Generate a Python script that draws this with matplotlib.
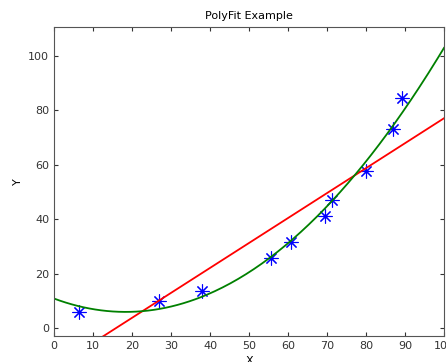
import matplotlib.pyplot as plt
import numpy as np

# data
x_data = [6.5, 26.9, 37.9, 55.6, 60.7, 69.4, 71.3, 80.0, 87.0, 89.3]
y_data = [6.0, 9.9, 13.6, 25.9, 31.5, 41.1, 47.2, 57.8, 73.1, 84.3]
x_ticks = [0, 10, 20, 30, 40, 50, 60, 70, 80, 90, 100]
y_ticks = [0, 20, 40, 60, 80, 100]

x = np.asarray(x_data)
y = np.asarray(y_data)
lin = np.polyfit(x, y, 1)
quad = np.polyfit(x, y, 2)
xs = np.linspace(0, 100, 200)

plt.rcParams.update({"font.family": "DejaVu Sans", "font.size": 8})
fig = plt.figure(figsize=(4.46, 3.62), dpi=100)
ax = fig.add_axes([54 / 446, 1 - 336 / 362, 390 / 446, 309 / 362])

# matlab-style asterisk markers
ax.plot(x, y, linestyle="none", marker=(8, 2, 0), color="blue", markersize=10, markeredgewidth=0.8)
ax.plot(xs, np.polyval(lin, xs), color="red", linewidth=1.3)
ax.plot(xs, np.polyval(quad, xs), color="green", linewidth=1.3)

ax.set_xlim(0, 100)
ax.set_ylim(-2.8, 110.5)
ax.set_xticks(x_ticks)
ax.set_yticks(y_ticks)
ax.tick_params(direction="in", top=True, right=True, length=3, colors="#333333")
for s in ax.spines.values():
    s.set_color("#555555")
ax.set_title("PolyFit Example", fontsize=8)
ax.set_xlabel("X")
ax.set_ylabel("Y")

fig.savefig("out.png", dpi=100)
